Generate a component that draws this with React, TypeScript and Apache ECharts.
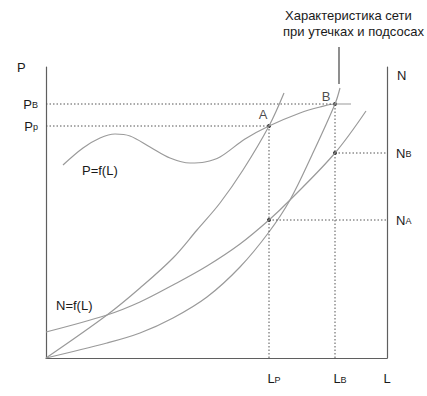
import React, { useEffect, useRef } from "react";
import * as echarts from "echarts";

// Schematic units: L from 0 to 341, P/N from 0 to 291
const L_MAX = 341;
const Y_MAX = 291;

// Operating points
const L_P = 223; // L at point A
const L_B = 289; // L at point B
const P_P = 232; // P at point A
const P_B = 254; // P at point B
const N_A = 138; // N at L_P
const N_B = 205; // N at L_B

// P = f(L) curve
const pCurveL = [17, 37, 54, 69, 84, 104, 124, 144, 159, 174, 199, 223, 254, 274, 289, 305];
const pCurveP = [193, 210, 220, 224, 222, 211, 200, 195, 196, 201, 219, 232, 245, 251, 254, 254];

// network characteristic (steep)
const netL = [0, 61, 94, 127, 151, 174, 197, 223, 238];
const netP = [0, 43, 70, 100, 128, 155, 188, 232, 265];

// network characteristic with leaks and suction
const leakL = [0, 61, 94, 127, 161, 194, 223, 244, 266, 289, 294];
const leakP = [0, 15, 25, 40, 61, 91, 126, 158, 203, 254, 270];

// N = f(L) curve
const nCurveL = [0, 61, 94, 127, 161, 194, 223, 244, 289, 320];
const nCurveN = [26, 43, 56, 73, 92, 114, 138, 158, 205, 247];

const GRAY = "#9a9a9a";
const AXIS = "#5f5f5f";
const DOT = "#555555";
const TXT = "#1a1a1a";
const FONT = "'Liberation Sans', Arial, sans-serif";

const zip = (a: number[], b: number[]) => a.map((v, i) => [v, b[i]]);

const rich = {
  m: { fontSize: 13, color: TXT, fontFamily: FONT },
  ml: { fontSize: 13, color: TXT, fontFamily: FONT, padding: [0, 0, 0, 10] },
  s: { fontSize: 9, color: TXT, fontFamily: FONT, verticalAlign: "bottom", padding: [0, 0, 1, 0] },
};

export default function App() {
  const ref = useRef<HTMLDivElement>(null);
  useEffect(() => {
    if (!ref.current) return;
    const chart = echarts.init(ref.current, undefined, { renderer: "svg" });
    const curve = (data: number[][], yAxisIndex = 0) => ({
      type: "line",
      data,
      yAxisIndex,
      smooth: 0.35,
      showSymbol: false,
      symbol: "none",
      lineStyle: { color: GRAY, width: 1.2 },
      silent: true,
    });
    const dotted = (data: number[][]) => ({
      type: "line",
      data,
      showSymbol: false,
      symbol: "none",
      lineStyle: { color: DOT, width: 1, type: [1.5, 2] },
      silent: true,
    });
    chart.setOption({
      animation: false,
      backgroundColor: "#ffffff",
      grid: { left: 46, top: 67, right: 40, bottom: 38 },
      xAxis: {
        type: "value",
        min: 0,
        max: L_MAX,
        axisLine: { show: true, onZero: false, lineStyle: { color: AXIS, width: 1.2 } },
        axisTick: { show: false },
        splitLine: { show: false },
        axisLabel: {
          customValues: [L_P, L_B, L_MAX],
          margin: 14,
          showMinLabel: true,
          showMaxLabel: true,
          formatter: (v: number) =>
            v === L_P ? "{ml|L}{s|P}" : v === L_B ? "{ml|L}{s|B}" : "{m|L}",
          rich,
        },
      },
      yAxis: [
        {
          type: "value",
          min: 0,
          max: Y_MAX,
          position: "left",
          axisLine: { show: true, onZero: false, lineStyle: { color: AXIS, width: 1.2 } },
          axisTick: { show: false },
          splitLine: { show: false },
          axisLabel: {
            customValues: [P_P, P_B],
            margin: 8,
            formatter: (v: number) => (v === P_B ? "{m|P}{s|B}" : "{m|P}{s|p}"),
            rich,
          },
        },
        {
          type: "value",
          min: 0,
          max: Y_MAX,
          position: "right",
          axisLine: { show: true, onZero: false, lineStyle: { color: AXIS, width: 1.2 } },
          axisTick: { show: false },
          splitLine: { show: false },
          axisLabel: {
            customValues: [N_A, N_B],
            margin: 9,
            formatter: (v: number) => (v === N_B ? "{m|N}{s|B}" : "{m|N}{s|A}"),
            rich,
          },
        },
      ],
      graphic: [
        { type: "text", left: 17, top: 61, style: { text: "P", font: `13px ${FONT}`, fill: TXT } },
        { type: "text", left: 397, top: 69, style: { text: "N", font: `13px ${FONT}`, fill: TXT } },
        { type: "text", left: 82, top: 164, style: { text: "P=f(L)", font: `13px ${FONT}`, fill: TXT } },
        { type: "text", left: 56, top: 299, style: { text: "N=f(L)", font: `13px ${FONT}`, fill: TXT } },
        {
          type: "text",
          left: 285,
          top: 9,
          style: { text: "Характеристика сети", font: `13px ${FONT}`, fill: TXT },
        },
        {
          type: "text",
          left: 283,
          top: 25,
          style: { text: "при утечках и подсосах", font: `13px ${FONT}`, fill: TXT },
        },
        {
          type: "line",
          shape: { x1: 339, y1: 47, x2: 339, y2: 84 },
          style: { stroke: "#444", lineWidth: 1.2 },
        },
      ],
      series: [
        curve(zip(pCurveL, pCurveP)),
        curve(zip(netL, netP)),
        curve(zip(leakL, leakP)),
        curve(zip(nCurveL, nCurveN)),
        dotted([[0, P_P], [L_P, P_P]]),
        dotted([[0, P_B], [L_B, P_B]]),
        dotted([[L_P, 0], [L_P, P_P]]),
        dotted([[L_B, 0], [L_B, P_B]]),
        dotted([[L_P, N_A], [L_MAX, N_A]]),
        dotted([[L_B, N_B], [L_MAX, N_B]]),
        {
          type: "scatter",
          symbolSize: 4,
          itemStyle: { color: "#000" },
          silent: true,
          data: [
            { value: [L_P, P_P], label: { show: true, formatter: "A", position: "top", offset: [-6, 2], fontSize: 13, color: TXT, fontFamily: FONT } },
            { value: [L_B, P_B], label: { show: true, formatter: "B", position: "top", offset: [-9, 6], fontSize: 13, color: TXT, fontFamily: FONT } },
            [L_P, N_A],
            [L_B, N_B],
          ],
        },
      ],
    });
    return () => chart.dispose();
  }, []);
  return (
    <div
      ref={ref}
      style={{ position: "fixed", left: 0, top: 0, width: 427, height: 396, background: "#fff" }}
    />
  );
}
